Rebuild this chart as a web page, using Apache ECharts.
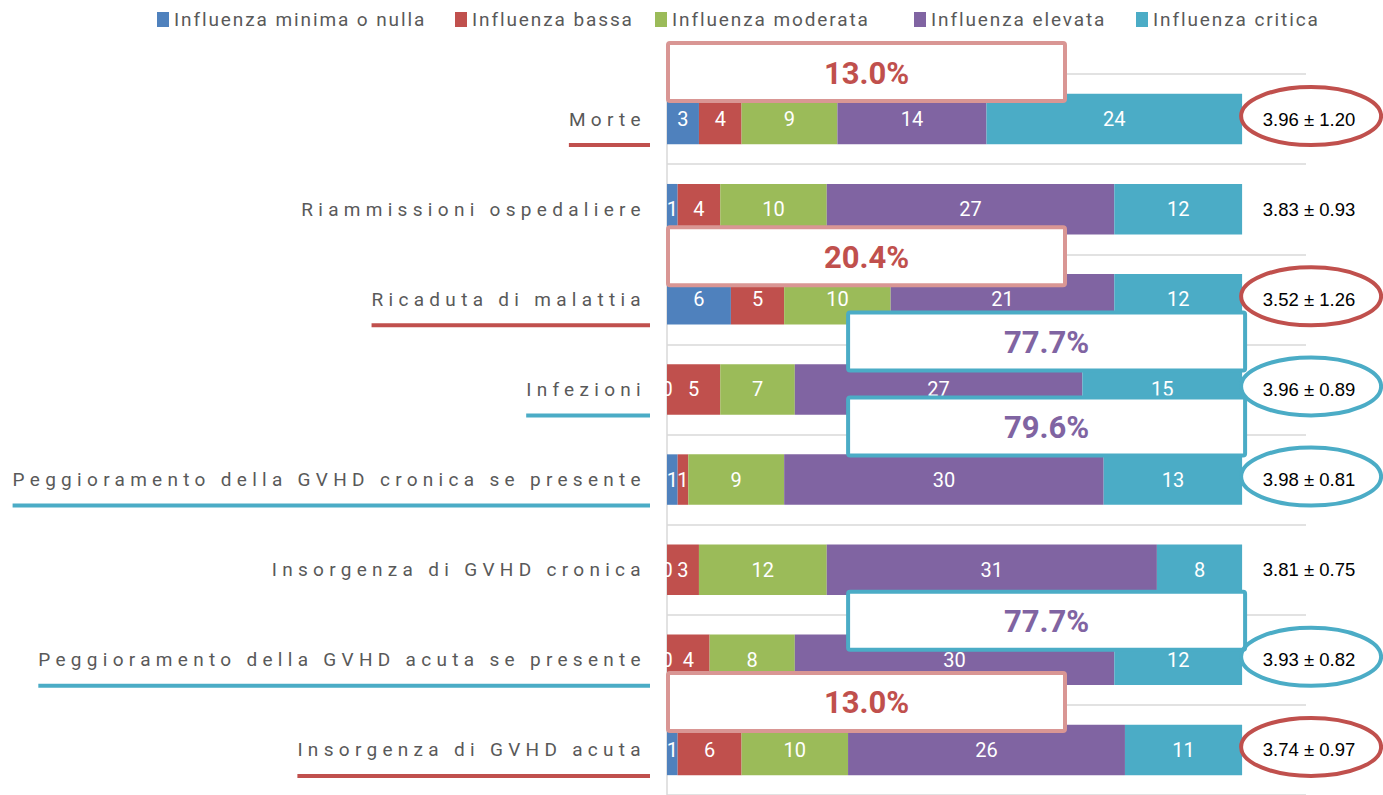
<!DOCTYPE html>
<html>
<head>
<meta charset="utf-8">
<script src="https://cdn.jsdelivr.net/npm/echarts@6/dist/echarts.min.js"></script>
<style>
html, body { margin: 0; padding: 0; background: #fff; }
#main { width: 1383px; height: 795px; }
/* spaced-out category labels and legend like the original slide */
#main text[text-anchor="end"] { letter-spacing: 5.3px; }
#main text[text-anchor="start"] { letter-spacing: 1.9px; }
</style>
</head>
<body>
<div id="main"></div>
<script>
const categories = [
  'Morte',
  'Riammissioni ospedaliere',
  'Ricaduta di malattia',
  'Infezioni',
  'Peggioramento della GVHD cronica se presente',
  'Insorgenza di GVHD cronica',
  'Peggioramento della GVHD acuta se presente',
  'Insorgenza di GVHD acuta',
]
const seriesNames = ['Influenza minima o nulla', 'Influenza bassa', 'Influenza moderata', 'Influenza elevata', 'Influenza critica']
const minima = [3, 1, 6, 0, 1, 0, 0, 1]
const bassa = [4, 4, 5, 5, 1, 3, 4, 6]
const moderata = [9, 10, 10, 7, 9, 12, 8, 10]
const elevata = [14, 27, 21, 27, 30, 31, 30, 26]
const critica = [24, 12, 12, 15, 13, 8, 12, 11]
const stats = ['3.96 ± 1.20', '3.83 ± 0.93', '3.52 ± 1.26', '3.96 ± 0.89', '3.98 ± 0.81', '3.81 ± 0.75', '3.93 ± 0.82', '3.74 ± 0.97']
const total = 54

// highlighted rows: 'low' = minima + bassa share, 'high' = elevata + critica share
const highlightRows = [0, 2, 3, 4, 6, 7]
const highlightKind = ['low', 'low', 'high', 'high', 'high', 'low']
const highlightText = ['13.0%', '20.4%', '77.7%', '79.6%', '77.7%', '13.0%']
// vertical shift of each percent box from its row centre (px)
const boxShift = [-47, -43, -48, -53, -39, -48]
// left edge of each legend entry (px)
const legendLeft = [157, 455, 655, 914, 1136]

const colors = ['#4F81BD', '#C0504D', '#9BBB59', '#8064A2', '#4BACC6']
const values = [minima, bassa, moderata, elevata, critica]

const chart = echarts.init(document.getElementById('main'), null, { renderer: 'svg' })

const option = {
  animation: false,
  textStyle: { fontFamily: 'Roboto' },
  color: colors,
  // one legend per entry so the spaced text never overlaps the next one
  legend: seriesNames.map((name, i) => ({
    left: legendLeft[i],
    top: 10,
    padding: 0,
    icon: 'rect',
    itemWidth: 12,
    itemHeight: 15,
    selectedMode: false,
    textStyle: { color: '#595959', fontSize: 19 },
    data: [name],
  })),
  grid: { left: 667, right: 77, top: 74, height: 723 },
  xAxis: { type: 'value', min: 0, max: 60, show: false },
  yAxis: [
    {
      type: 'category',
      inverse: true,
      data: categories,
      axisLine: { show: true, lineStyle: { color: '#d9d9d9', width: 1.5 } },
      axisTick: { show: false },
      splitLine: { show: true, lineStyle: { color: '#d9d9d9', width: 1.5 } },
      axisLabel: { color: '#595959', fontSize: 19, margin: 21 },
    },
    {
      type: 'category',
      inverse: true,
      position: 'right',
      data: stats,
      axisLine: { show: false },
      axisTick: { show: false },
      splitLine: { show: false },
      axisLabel: { color: '#000', fontSize: 18.5, fontFamily: 'Liberation Sans', align: 'center', margin: 3 },
    },
  ],
  series: seriesNames.map((name, i) => ({
    name: name,
    type: 'bar',
    stack: 'total',
    barWidth: '56%',
    data: values[i],
    itemStyle: { color: colors[i] },
    label: { show: true, position: 'inside', color: '#fff', fontSize: 20 },
  })),
}
chart.setOption(option)

// annotation layer: percent boxes, ellipses round the means, label underlines
function drawNotes() {
  const px = (v, i) => chart.convertToPixel({ xAxisIndex: 0, yAxisIndex: 0 }, [v, i])
  const ctx = document.createElement('canvas').getContext('2d')
  ctx.font = '19px Roboto'
  ctx.letterSpacing = '5.3px'
  const els = []
  highlightRows.forEach((row, k) => {
    const low = highlightKind[k] === 'low'
    const [x0, cy] = px(0, row)
    const [x1] = px(total, row)
    const boxW = 397
    const boxH = 58
    const left = low ? x0 + 1 : x1 + 3 - boxW
    const top = cy + boxShift[k] - boxH / 2
    const lineCol = low ? '#C0504D' : '#4BACC6'
    els.push({
      type: 'rect', z: 100,
      shape: { x: left, y: top, width: boxW, height: boxH, r: 2 },
      style: { fill: '#fff', stroke: low ? '#D99694' : '#4BACC6', lineWidth: 4 },
    })
    els.push({
      type: 'text', z: 101,
      x: left + boxW / 2, y: top + boxH / 2 + 1,
      style: {
        text: highlightText[k], fill: low ? '#C0504D' : '#8064A2',
        font: 'bold 31px Roboto',
        align: 'center', verticalAlign: 'middle',
        textAlign: 'center', textVerticalAlign: 'middle',
      },
    })
    els.push({
      type: 'ellipse', z: 100,
      shape: { cx: x1 + 69, cy: cy - 3, rx: 70, ry: 29 },
      style: { fill: 'none', stroke: lineCol, lineWidth: 4 },
    })
    const w = ctx.measureText(categories[row]).width
    const anchor = x0 - 21
    els.push({
      type: 'line', z: 100,
      shape: { x1: anchor - w, y1: cy + 26, x2: x0 - 17, y2: cy + 26 },
      style: { stroke: lineCol, lineWidth: 4 },
    })
  })
  chart.setOption({ graphic: { elements: els } })
}
drawNotes()
</script>
</body>
</html>
